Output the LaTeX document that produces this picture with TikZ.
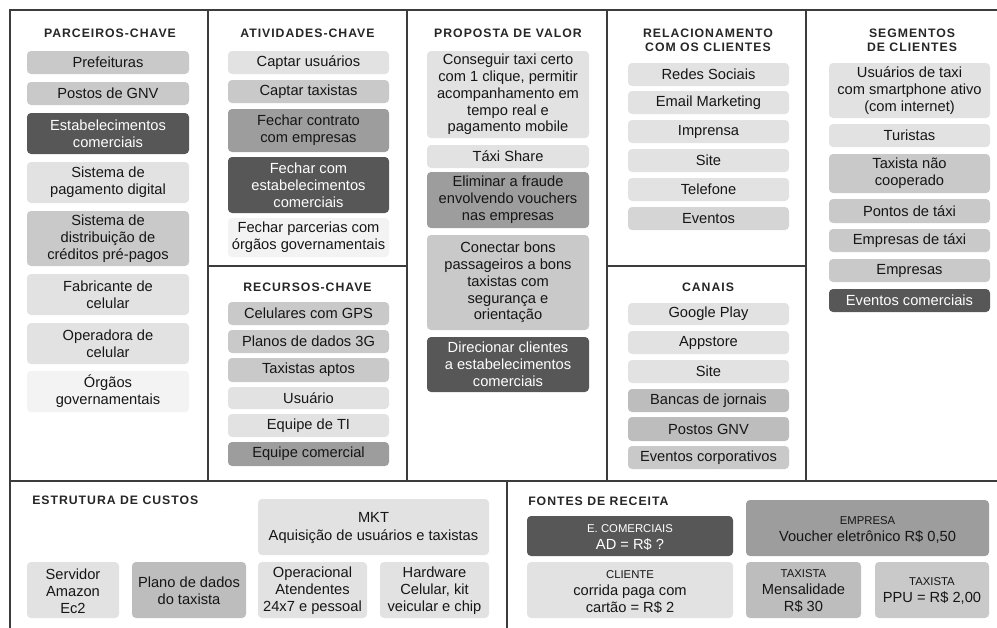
\documentclass[tikz,border=0pt]{standalone}
\usepackage{fontspec}
\setmainfont{Liberation Sans}
\newfontfamily\headfont[LetterSpace=8]{Liberation Sans}

\definecolor{ink}{HTML}{161616}
\definecolor{headink}{HTML}{262626}
\definecolor{framegray}{HTML}{3C3C3C}
\definecolor{boxA}{HTML}{F3F3F3}
\definecolor{boxB}{HTML}{E2E2E2}
\definecolor{boxBd}{HTML}{D5D5D5}
\definecolor{boxC}{HTML}{C9C9C9}
\definecolor{boxCd}{HTML}{BDBDBD}
\definecolor{boxD}{HTML}{9D9D9D}
\definecolor{boxE}{HTML}{575757}

\newcommand{\smalltag}[1]{{\fontsize{8.5}{10}\selectfont #1}}

\tikzset{
  card/.style={rounded corners=3pt, draw=none},
  lbl/.style={align=center, inner sep=0pt, text=ink, font=\fontsize{11}{12.6}\selectfont},
  lblw/.style={lbl, text=white},
  lblbig/.style={lbl, font=\fontsize{11}{12.8}\selectfont},
  head/.style={align=center, inner sep=0pt, text=headink, font=\headfont\bfseries\fontsize{9.2}{10.5}\selectfont},
  cell/.style={draw=framegray, line width=1.1pt},
}

\begin{document}
\begin{tikzpicture}[x=0.75pt,y=0.75pt,yscale=-1,xscale=1]
\useasboundingbox (0,0) rectangle (997,628);

%Straight Lines
\draw [cell] (10,628) -- (10,10) -- (997,10) ;
\draw [cell] (10,481) -- (997,481) ;
\draw [cell] (208,10) -- (208,481) ;
\draw [cell] (407,10) -- (407,481) ;
\draw [cell] (607,10) -- (607,481) ;
\draw [cell] (806,10) -- (806,481) ;
\draw [cell] (208,266) -- (407,266) ;
\draw [cell] (607,266) -- (806,266) ;
\draw [cell] (507,481) -- (507,628) ;

%Parceiros-chave
\node [head] (hParceiros) at (110,33) {PARCEIROS-CHAVE};
\draw [card, fill=boxC] (27,51) rectangle (189,74) ;
\node [lbl] (prefeituras) at (108,62.5) {Prefeituras};
\draw [card, fill=boxC] (27,82) rectangle (189,105) ;
\node [lbl] (postosGNV) at (108,93.5) {Postos de GNV};
\draw [card, fill=boxE] (27,113) rectangle (189,154) ;
\node [lblw] (estabelecimentos) at (108,133.5) {Estabelecimentos\\comerciais};
\draw [card, fill=boxB] (27,162) rectangle (189,203) ;
\node [lbl] (pagDigital) at (108,182.5) {Sistema de\\pagamento digital};
\draw [card, fill=boxC] (27,211) rectangle (189,266) ;
\node [lbl] (credPrePagos) at (108,238.5) {Sistema de\\distribuição de\\créditos pré-pagos};
\draw [card, fill=boxB] (27,274) rectangle (189,315) ;
\node [lbl] (fabricante) at (108,294.5) {Fabricante de\\celular};
\draw [card, fill=boxB] (27,323) rectangle (189,364) ;
\node [lbl] (operadora) at (108,343.5) {Operadora de\\celular};
\draw [card, fill=boxA] (27,371) rectangle (189,412) ;
\node [lbl] (orgaos) at (108,391.5) {Órgãos\\governamentais};

%Atividades-chave
\node [head] (hAtividades) at (307.5,33) {ATIVIDADES-CHAVE};
\draw [card, fill=boxB] (228,51) rectangle (389,74) ;
\node [lbl] (captUsuarios) at (308.5,62.5) {Captar usuários};
\draw [card, fill=boxC] (228,80) rectangle (389,103) ;
\node [lbl] (captTaxistas) at (308.5,91.5) {Captar taxistas};
\draw [card, fill=boxD] (228,109) rectangle (389,152) ;
\node [lbl] (contratoEmpresas) at (308.5,130.5) {Fechar contrato\\com empresas};
\draw [card, fill=boxE] (228,157) rectangle (389,213) ;
\node [lblw] (fecharEstab) at (308.5,185) {Fechar com\\estabelecimentos\\comerciais};
\draw [card, fill=boxA] (228,218) rectangle (389,257) ;
\node [lbl] (fecharOrgaos) at (308.5,237.5) {Fechar parcerias com\\órgãos governamentais};

%Recursos-chave
\node [head] (hRecursos) at (307.5,287) {RECURSOS-CHAVE};
\draw [card, fill=boxC] (228,302) rectangle (389,325) ;
\node [lbl] (celularesGPS) at (308.5,313.5) {Celulares com GPS};
\draw [card, fill=boxC] (228,330) rectangle (389,353) ;
\node [lbl] (planos3G) at (308.5,341.5) {Planos de dados 3G};
\draw [card, fill=boxC] (228,358) rectangle (389,382) ;
\node [lbl] (taxistasAptos) at (308.5,370) {Taxistas aptos};
\draw [card, fill=boxB] (228,387) rectangle (389,409) ;
\node [lbl] (usuario) at (308.5,398) {Usuário};
\draw [card, fill=boxB] (228,414) rectangle (389,437) ;
\node [lbl] (equipeTI) at (308.5,425.5) {Equipe de TI};
\draw [card, fill=boxD] (228,442) rectangle (389,466) ;
\node [lbl] (equipeComercial) at (308.5,454) {Equipe comercial};

%Proposta de valor
\node [head] (hProposta) at (508,33) {PROPOSTA DE VALOR};
\draw [card, fill=boxB] (427,51) rectangle (589,138) ;
\node [lbl] (conseguirTaxi) at (508,94.5) {Conseguir taxi certo\\com 1 clique, permitir\\acompanhamento em\\tempo real e\\pagamento mobile};
\draw [card, fill=boxB] (427,145) rectangle (589,168) ;
\node [lbl] (taxiShare) at (508,156.5) {Táxi Share};
\draw [card, fill=boxD] (427,172) rectangle (589,228) ;
\node [lbl] (eliminarFraude) at (508,200) {Eliminar a fraude\\envolvendo vouchers\\nas empresas};
\draw [card, fill=boxC] (427,235) rectangle (589,330) ;
\node [lbl] (conectarBons) at (508,282.5) {Conectar bons\\passageiros a bons\\taxistas com\\segurança e\\orientação};
\draw [card, fill=boxE] (427,337) rectangle (589,392) ;
\node [lblw] (direcionar) at (508,364.5) {Direcionar clientes\\a estabelecimentos\\comerciais};

%Relacionamento com os clientes
\node [head] (hRelacionamento) at (708,40) {RELACIONAMENTO\\COM OS CLIENTES};
\draw [card, fill=boxB] (628,63) rectangle (789,86) ;
\node [lbl] (redesSociais) at (708.5,74.5) {Redes Sociais};
\draw [card, fill=boxB] (628,91) rectangle (789,114) ;
\node [lbl] (emailMkt) at (708.5,102.5) {Email Marketing};
\draw [card, fill=boxB] (628,120) rectangle (789,143) ;
\node [lbl] (imprensa) at (708.5,131.5) {Imprensa};
\draw [card, fill=boxB] (628,149) rectangle (789,172) ;
\node [lbl] (siteRel) at (708.5,160.5) {Site};
\draw [card, fill=boxB] (628,178) rectangle (789,201) ;
\node [lbl] (telefone) at (708.5,189.5) {Telefone};
\draw [card, fill=boxBd] (628,207) rectangle (789,230) ;
\node [lbl] (eventosRel) at (708.5,218.5) {Eventos};

%Canais
\node [head] (hCanais) at (708,287) {CANAIS};
\draw [card, fill=boxB] (628,303) rectangle (789,325) ;
\node [lbl] (googlePlay) at (708.5,314) {Google Play};
\draw [card, fill=boxB] (628,331) rectangle (789,354) ;
\node [lbl] (appstore) at (708.5,342.5) {Appstore};
\draw [card, fill=boxB] (628,360) rectangle (789,383) ;
\node [lbl] (siteCanal) at (708.5,371.5) {Site};
\draw [card, fill=boxCd] (628,389) rectangle (789,412) ;
\node [lbl] (bancas) at (708.5,400.5) {Bancas de jornais};
\draw [card, fill=boxCd] (628,417) rectangle (789,441) ;
\node [lbl] (postosCanal) at (708.5,429) {Postos GNV};
\draw [card, fill=boxC] (628,446) rectangle (789,469) ;
\node [lbl] (eventosCorp) at (708.5,457.5) {Eventos corporativos};

%Segmentos de clientes
\node [head] (hSegmentos) at (912,40) {SEGMENTOS\\DE CLIENTES};
\draw [card, fill=boxB] (829,63) rectangle (990,118) ;
\node [lbl] (usuariosTaxi) at (909.5,90.5) {Usuários de taxi\\com smartphone ativo\\(com internet)};
\draw [card, fill=boxB] (829,124) rectangle (990,147) ;
\node [lbl] (turistas) at (909.5,135.5) {Turistas};
\draw [card, fill=boxC] (829,154) rectangle (990,193) ;
\node [lbl] (naoCooperado) at (909.5,173.5) {Taxista não\\cooperado};
\draw [card, fill=boxC] (829,199) rectangle (990,223) ;
\node [lbl] (pontosTaxi) at (909.5,211) {Pontos de táxi};
\draw [card, fill=boxC] (829,229) rectangle (990,252) ;
\node [lbl] (empresasTaxi) at (909.5,240.5) {Empresas de táxi};
\draw [card, fill=boxC] (829,259) rectangle (990,282) ;
\node [lbl] (empresas) at (909.5,270.5) {Empresas};
\draw [card, fill=boxE] (829,289) rectangle (990,312) ;
\node [lblw] (eventosComerciais) at (909.5,300.5) {Eventos comerciais};

%Estrutura de custos
\node [head, anchor=west] (hCustos) at (32,500) {ESTRUTURA DE CUSTOS};
\draw [card, fill=boxB] (258,499) rectangle (489,555) ;
\node [lblbig] (mkt) at (373.5,528) {MKT\\Aquisição de usuários e taxistas};
\draw [card, fill=boxB] (27,562) rectangle (119,618) ;
\node [lblbig] (servidor) at (73,591) {Servidor\\Amazon\\Ec2};
\draw [card, fill=boxCd] (132,562) rectangle (246,618) ;
\node [lblbig] (planoTaxista) at (189,591) {Plano de dados\\do taxista};
\draw [card, fill=boxB] (258,562) rectangle (367,618) ;
\node [lblbig] (operacional) at (312.5,591) {Operacional\\Atendentes\\24x7 e pessoal};
\draw [card, fill=boxB] (380,562) rectangle (489,618) ;
\node [lblbig] (hardware) at (434.5,591) {Hardware\\Celular, kit\\veicular e chip};

%Fontes de receita
\node [head, anchor=west] (hReceita) at (528,501) {FONTES DE RECEITA};
\draw [card, fill=boxE] (527,516) rectangle (733,556) ;
\node [lblbig, text=white] (eComerciais) at (630,538) {\smalltag{E. COMERCIAIS}\\AD = R\$ ?};
\draw [card, fill=boxD] (746,500) rectangle (989,556) ;
\node [lblbig] (empresa) at (867.5,530) {\smalltag{EMPRESA}\\Voucher eletrônico R\$ 0,50};
\draw [card, fill=boxB] (527,562) rectangle (733,618) ;
\node [lblbig] (cliente) at (630,592) {\smalltag{CLIENTE}\\corrida paga com\\cartão = R\$ 2};
\draw [card, fill=boxCd] (746,562) rectangle (861,618) ;
\node [lblbig] (taxistaMensal) at (803.5,591) {\smalltag{TAXISTA}\\Mensalidade\\R\$ 30};
\draw [card, fill=boxC] (875,562) rectangle (989,618) ;
\node [lblbig] (taxistaPPU) at (932,591) {\smalltag{TAXISTA}\\PPU = R\$ 2,00};

\end{tikzpicture}
\end{document}
